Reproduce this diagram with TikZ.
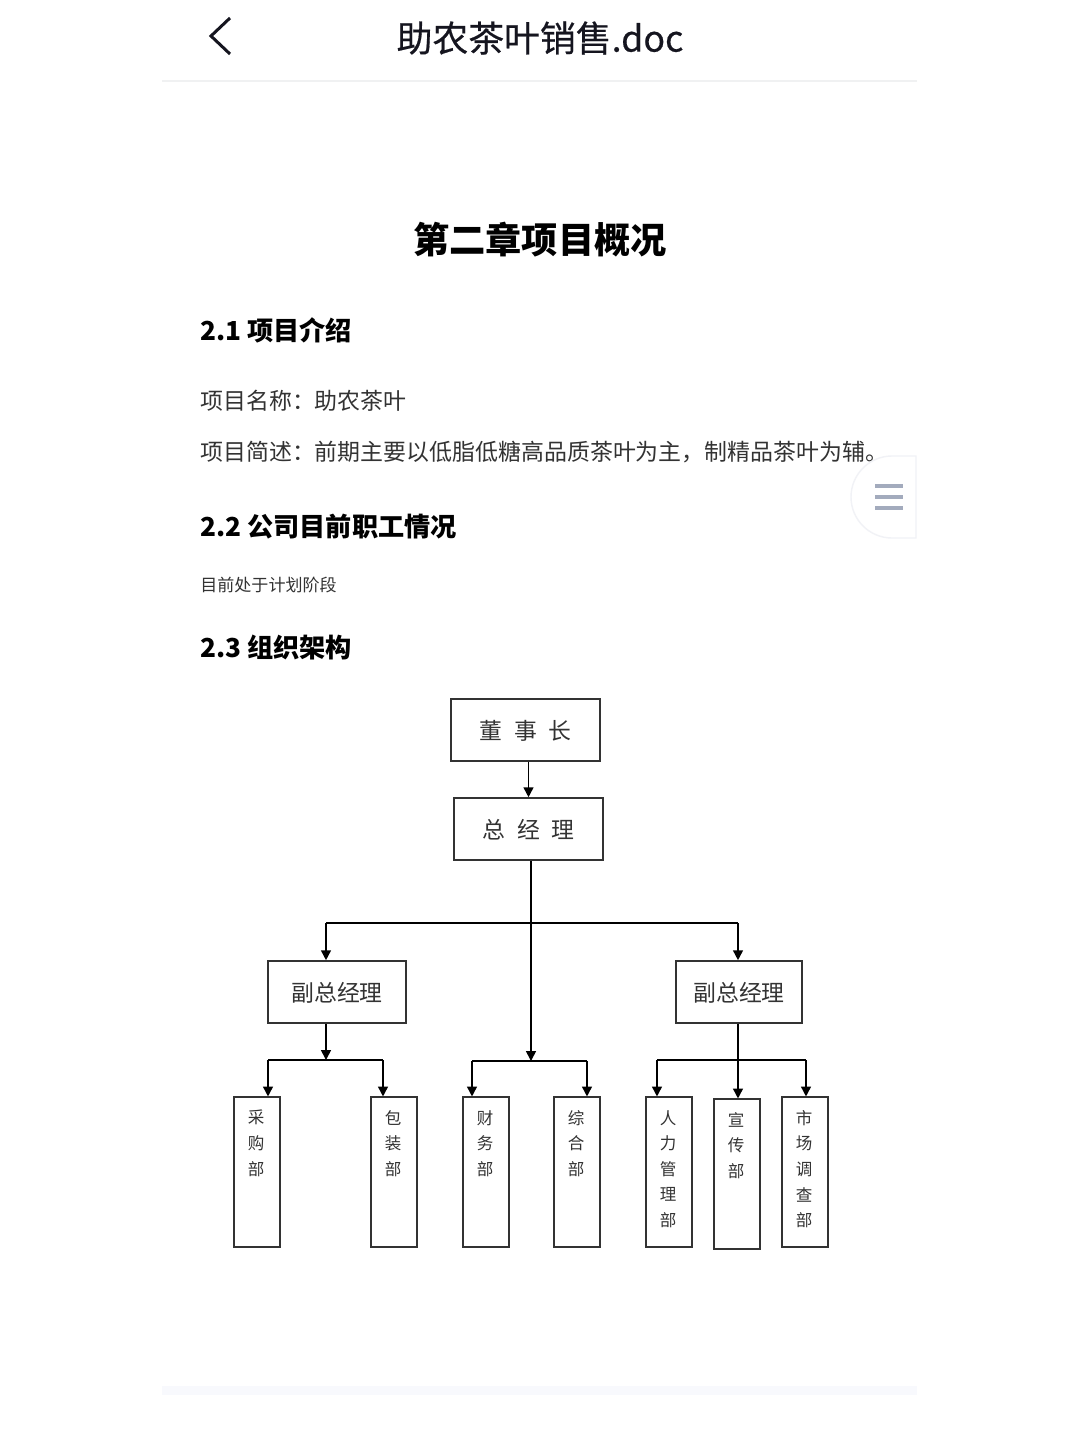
\documentclass[tikz,border=0pt]{standalone}
\usepackage{fontspec}
\setmainfont{Noto Sans CJK SC}
\newfontfamily\doctitlefont[FakeBold=0.5]{Noto Sans CJK SC}
\usetikzlibrary{arrows.meta}
\definecolor{inkblack}{HTML}{15151F}
\definecolor{bodygrey}{HTML}{333333}
\definecolor{rulegrey}{HTML}{F0F1F2}
\definecolor{bandblue}{HTML}{F8F9FD}
\definecolor{tabedge}{HTML}{F1F2F6}
\definecolor{barblue}{HTML}{A3ABBD}
\newcommand{\wordgap}{\hspace{6.5pt}}
\newcommand{\dept}[1]{\hspace*{-1.1pt}\parbox[c][73.7pt][t]{20pt}{\vspace*{1.7pt}\centering\baselineskip=14.57pt #1}}
\tikzset{
    titletext/.style={anchor=center,inner sep=0,font=\doctitlefont\fontsize{20.4}{24}\selectfont,text=inkblack},
    chaptext/.style={anchor=center,inner sep=0,font=\fontsize{20.6}{24}\selectfont\bfseries,text=black},
    sectext/.style={anchor=west,inner sep=0,font=\fontsize{14.9}{18}\selectfont\bfseries,text=black},
    bodytext/.style={anchor=west,inner sep=0,font=\fontsize{13.05}{16}\selectfont,text=bodygrey},
    smalltext/.style={anchor=west,inner sep=0,font=\fontsize{9.7}{12}\selectfont,text=bodygrey},
    topbox/.style={draw=bodygrey,line width=1pt,inner sep=0,text=bodygrey,text height=12pt,text depth=1pt,
        font=\fontsize{13}{16}\selectfont},
    deptbox/.style={draw=bodygrey,line width=1pt,inner sep=0,minimum width=26pt,minimum height=85pt,
        text=bodygrey,font=\fontsize{9.4}{14.57}\selectfont},
    link/.style={draw=black,line width=.9pt},
    linkarrow/.style={link,-{Triangle[length=5.6pt,width=5.6pt]}},
}
\begin{document}
\begin{tikzpicture}[x=0.02cm,y=-0.02cm]
    \useasboundingbox (0,0) rectangle (1080,1440);
    \fill [white] (0,0) rectangle (1080,1440);

    \draw [line width=1.7pt,inkblack] (230,18) -- (211,36) -- (230,54);
    \node [titletext] (doctitle) at (540,38) {助农茶叶销售.doc};
    \fill [rulegrey] (162,80) rectangle (917,82);
    \fill [bandblue] (162,1386) rectangle (917,1395);

    \node [chaptext] (chapter) at (540,240) {第二章项目概况};
    \node [sectext] (secintro) at (200,330) {2.1 项目介绍};
    \node [bodytext] (projname) at (200,401) {项目名称：助农茶叶};
    \node [bodytext] (projdesc) at (200,452) {项目简述：前期主要以低脂低糖高品质茶叶为主，制精品茶叶为辅。};
    \node [sectext] (secstaff) at (200,527) {2.2 公司目前职工情况};
    \node [smalltext] (staffnote) at (200,585) {目前处于计划阶段};
    \node [sectext] (secorg) at (200,647) {2.3 组织架构};

    \filldraw [fill=white,draw=tabedge,line width=.8pt]
        (916,456) -- (892,456) arc (270:90:41) -- (916,538) -- cycle;
    \draw [line width=1.9pt,barblue] (875,486) -- (903,486);
    \draw [line width=1.9pt,barblue] (875,497) -- (903,497);
    \draw [line width=1.9pt,barblue] (875,508) -- (903,508);

    \node [topbox,minimum width=84.5pt,minimum height=35.2pt] (dongshi) at (525.5,730) {董\wordgap 事\wordgap 长};
    \node [topbox,minimum width=84.5pt,minimum height=35.2pt] (zongjingli) at (528.5,829) {总\wordgap 经\wordgap 理};
    \node [topbox,minimum width=78.2pt,minimum height=35.2pt] (fuleft) at (337,992) {副总经理};
    \node [topbox,minimum width=71.4pt,minimum height=35.2pt] (furight) at (739,992) {副总经理};

    \node [deptbox] (caigou) at (257,1172) {\dept{采\\购\\部}};
    \node [deptbox] (baozhuang) at (394,1172) {\dept{包\\装\\部}};
    \node [deptbox] (caiwu) at (486,1172) {\dept{财\\务\\部}};
    \node [deptbox] (zonghe) at (577,1172) {\dept{综\\合\\部}};
    \node [deptbox] (renli) at (669,1172) {\dept{人\\力\\管\\理\\部}};
    \node [deptbox] (xuanchuan) at (737,1174) {\dept{宣\\传\\部}};
    \node [deptbox] (shichang) at (805,1172) {\dept{市\\场\\调\\查\\部}};

    \coordinate (midbus) at (531,923);
    \coordinate (leftbus) at (326,923);
    \coordinate (rightbus) at (738,923);
    \coordinate (leftfork) at (326,1060);
    \coordinate (midfork) at (531,1061);
    \coordinate (rightfork) at (738,1060);
    \coordinate (caigoudrop) at (268,1060);
    \coordinate (baozhuangdrop) at (383,1060);
    \coordinate (caiwudrop) at (472,1061);
    \coordinate (zonghedrop) at (587,1061);
    \coordinate (renlidrop) at (657,1060);
    \coordinate (shichangdrop) at (806,1060);

    \draw [linkarrow] (zongjingli.north |- dongshi.south) -- (zongjingli.north);
    \draw [linkarrow] (midbus |- zongjingli.south) -- (midfork);
    \draw [link] (leftbus) -- (rightbus);
    \draw [linkarrow] (leftbus) -- (leftbus |- fuleft.north);
    \draw [linkarrow] (rightbus) -- (rightbus |- furight.north);

    \draw [linkarrow] (leftfork |- fuleft.south) -- (leftfork);
    \draw [link] (caigoudrop) -- (baozhuangdrop);
    \draw [linkarrow] (caigoudrop) -- (caigoudrop |- caigou.north);
    \draw [linkarrow] (baozhuangdrop) -- (baozhuangdrop |- baozhuang.north);

    \draw [link] (caiwudrop) -- (zonghedrop);
    \draw [linkarrow] (caiwudrop) -- (caiwudrop |- caiwu.north);
    \draw [linkarrow] (zonghedrop) -- (zonghedrop |- zonghe.north);

    \draw [linkarrow] (rightfork |- furight.south) -- (rightfork |- xuanchuan.north);
    \draw [link] (renlidrop) -- (shichangdrop);
    \draw [linkarrow] (renlidrop) -- (renlidrop |- renli.north);
    \draw [linkarrow] (shichangdrop) -- (shichangdrop |- shichang.north);
\end{tikzpicture}
\end{document}
